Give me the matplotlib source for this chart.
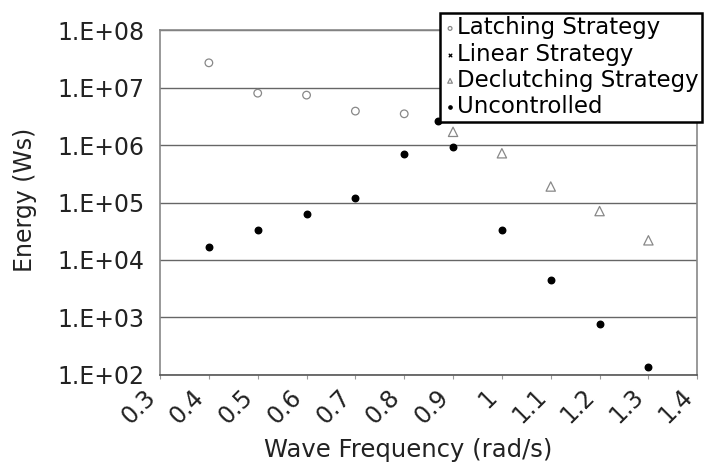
import numpy as np
import matplotlib as mlp
mlp.use('Agg')
import matplotlib.pyplot as plt
from matplotlib.ticker import FixedLocator, FuncFormatter

plt.rcParams['font.family'] = ['DejaVu Sans']

# ----Energy per strategy vs wave frequency-------
freq_latch = [0.4, 0.5, 0.6, 0.7, 0.8]
energy_latch = [2.7e7, 8.0e6, 7.4e6, 3.9e6, 3.5e6]

freq_declutch = [0.9, 1.0, 1.1, 1.2, 1.3]
energy_declutch = [1.7e6, 7.2e5, 1.9e5, 7.1e4, 2.2e4]

freq_linear = [0.9]
energy_linear = [3.0e6]

freq_unctrl = [0.4, 0.5, 0.6, 0.7, 0.8, 0.87, 0.9, 1.0, 1.1, 1.2, 1.3]
energy_unctrl = [1.7e4, 3.3e4, 6.3e4, 1.2e5, 6.9e5, 2.6e6, 9.2e5, 3.3e4, 4.5e3, 7.7e2, 1.4e2]

xticks = [0.3, 0.4, 0.5, 0.6, 0.7, 0.8, 0.9, 1, 1.1, 1.2, 1.3, 1.4]
yticks = [1e2, 1e3, 1e4, 1e5, 1e6, 1e7, 1e8]

fig = plt.figure(figsize=(7.05, 4.71), dpi=100)
ax = fig.add_axes([0.227, 0.204, 0.762, 0.732])

ax.scatter(freq_latch, energy_latch, marker='o', s=30, facecolors='none',
           edgecolors='#888888', linewidths=0.9, label='Latching Strategy', zorder=3)
ax.scatter(freq_linear, energy_linear, marker='x', s=25, color='black',
           linewidths=0.9, label='Linear Strategy', zorder=3)
ax.scatter(freq_declutch, energy_declutch, marker='^', s=45, facecolors='none',
           edgecolors='#888888', linewidths=0.9, label='Declutching Strategy', zorder=3)
ax.scatter(freq_unctrl, energy_unctrl, marker='o', s=22, color='black',
           label='Uncontrolled', zorder=3)

ax.set_yscale('log')
ax.set_xlim(0.3, 1.4)
ax.set_ylim(1e2, 1e8)
ax.yaxis.set_major_locator(FixedLocator(yticks))
ax.yaxis.set_minor_locator(FixedLocator([]))
ax.yaxis.set_major_formatter(FuncFormatter(lambda v, p: '1.E+%02d' % round(np.log10(v))))
ax.set_xticks(xticks)
ax.set_xticklabels(['%g' % t for t in xticks])
ax.grid(axis='y', color='#666666', linewidth=1.0)
ax.set_axisbelow(True)

for side in ['left', 'top', 'right', 'bottom']:
    ax.spines[side].set_color('#888888')
    ax.spines[side].set_linewidth(1.2)
ax.spines['bottom'].set_color('#555555')

ax.tick_params(axis='y', length=0, pad=11, labelsize=17, labelcolor='#222222')
ax.tick_params(axis='x', length=3, color='#999999', labelsize=17, pad=4,
               labelcolor='#222222')
for lbl in ax.get_xticklabels():
    lbl.set_rotation(45)
    lbl.set_ha('right')
    lbl.set_va('top')

ax.set_xlabel('Wave Frequency (rad/s)', fontsize=17.5, color='#222222')
ax.set_ylabel('Energy (Ws)', fontsize=17, color='#222222')
ax.xaxis.set_label_coords(0.462, -0.182)
ax.yaxis.set_label_coords(-0.229, 0.507)

leg = ax.legend(loc='upper right', bbox_to_anchor=(702 / 705, 1 - 13 / 471),
                bbox_transform=fig.transFigure, fontsize=16.5, frameon=True,
                fancybox=False, shadow=False, handletextpad=0.0, handlelength=0.6,
                borderpad=0.15, labelspacing=0.14, borderaxespad=0, markerscale=0.5)
leg.get_frame().set_edgecolor('black')
leg.get_frame().set_linewidth(1.8)
leg.get_frame().set_alpha(1)
leg.set_zorder(5)

fig.savefig('out.png', dpi=100, facecolor='white')
